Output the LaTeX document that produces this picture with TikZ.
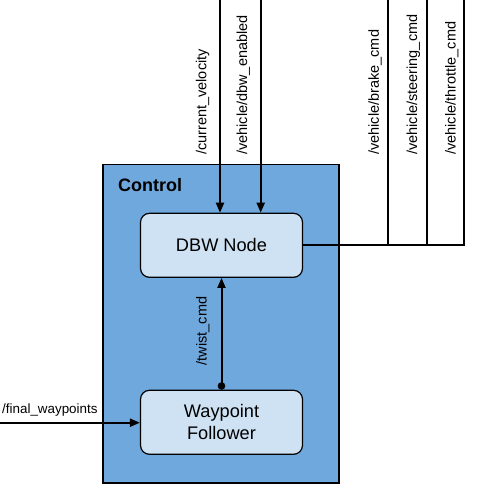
\documentclass[tikz,border=0pt]{standalone}
\usepackage{fontspec}
\setmainfont{Liberation Sans}
\usetikzlibrary{arrows.meta}
\definecolor{ctrlblue}{HTML}{6FA8DC}
\definecolor{nodeblue}{HTML}{CFE2F3}
\begin{document}
\begin{tikzpicture}[x=1pt,y=-1pt,
  ctrlbox/.style={draw=black,line width=1.3pt,fill=ctrlblue,minimum width=236pt,minimum height=318.5pt,inner sep=0},
  rosnode/.style={draw=black,line width=1.2pt,fill=nodeblue,rounded corners=9pt,minimum width=162pt,minimum height=64pt,align=center,font=\fontsize{18.2}{21.7}\selectfont,inner sep=0},
  topic/.style={font=\fontsize{14.5}{17}\selectfont,inner sep=0},
  vtopic/.style={topic,rotate=90,anchor=west},
  arr/.style={line width=2pt,-{Triangle[length=10pt,width=8pt]}},
  wire/.style={line width=1.8pt},
  dotstart/.style={{Circle[length=7.5pt]}-{Triangle[length=10pt,width=8pt]},line width=2pt}]
\useasboundingbox (0,0) rectangle (479,493);
\node[ctrlbox] (control) at (221,323.75) {};
\node[anchor=west,font=\bfseries\fontsize{18}{21}\selectfont,inner sep=0] (ctrllabel) at (118,185) {Control};
\node[rosnode] (dbw) at (221.5,245.3) {DBW Node};
\node[rosnode] (wf) at (221.5,422.3) {Waypoint\\Follower};
% inputs from top
\coordinate (cv) at (220,0);
\coordinate (de) at (260.7,0);
\draw[arr] (cv) -- (cv |- dbw.north);
\draw[arr] (de) -- (de |- dbw.north);
% outputs
\coordinate (br) at (388.3,0);
\coordinate (st) at (426.7,0);
\coordinate (th) at (464.3,0);
\draw[wire] (dbw.east) -| (th);
\draw[wire] (br |- dbw.east) -- (br);
\draw[wire] (st |- dbw.east) -- (st);
% twist
\draw[dotstart] (wf.north) -- (dbw.south);
% final waypoints
\coordinate (fw) at (0,422.7);
\draw[arr] (fw) -- (fw -| wf.west);
% labels
\node[vtopic] (l1) at (202.7,155) {/current\_velocity};
\node[vtopic] (l2) at (243.3,155) {/vehicle/dbw\_enabled};
\node[vtopic] (l3) at (375,155) {/vehicle/brake\_cmd};
\node[vtopic] (l4) at (413.3,155) {/vehicle/steering\_cmd};
\node[vtopic] (l5) at (451.7,155) {/vehicle/throttle\_cmd};
\node[topic,rotate=90] (l6) at (202.7,331) {/twist\_cmd};
\node[topic,anchor=west,font=\fontsize{13.4}{16}\selectfont] (l7) at (2,410) {/final\_waypoints};
\end{tikzpicture}
\end{document}
